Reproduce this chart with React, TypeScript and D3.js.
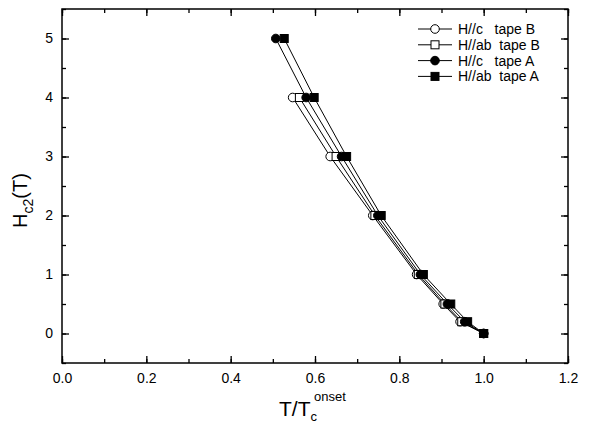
import { useEffect, useRef } from "react";
import * as d3 from "d3";

// field values (T) for each tape
const fieldB = [4, 3, 2, 1, 0.5, 0.2, 0];
const fieldA = [5, 4, 3, 2, 1, 0.5, 0.2, 0];

// reduced temperature T/Tc onset
const tParC_B = [0.547, 0.636, 0.737, 0.841, 0.904, 0.944, 1.0];
const tParAb_B = [0.563, 0.65, 0.742, 0.845, 0.908, 0.948, 1.0];
const tParC_A = [0.507, 0.579, 0.663, 0.749, 0.85, 0.914, 0.955, 1.0];
const tParAb_A = [0.527, 0.598, 0.675, 0.757, 0.857, 0.922, 0.962, 1.0];

const seriesNames = ["H//c   tape B", "H//ab  tape B", "H//c   tape A", "H//ab  tape A"];

const xTicks = [0, 0.2, 0.4, 0.6, 0.8, 1.0, 1.2];
const yTicks = [0, 1, 2, 3, 4, 5];

const W = 590;
const H = 428;
const left = 62;
const right = 568;
const top = 9;
const bottom = 363;

export default function App() {
  const ref = useRef<SVGSVGElement>(null);

  useEffect(() => {
    const svg = d3.select(ref.current);
    svg.selectAll("*").remove();

    const x = d3.scaleLinear().domain([0, 1.2]).range([left, right]);
    const y = d3.scaleLinear().domain([-0.5, 5.5]).range([bottom, top]);

    const font = "'Liberation Sans', Arial, sans-serif";
    const xMinor = d3.range(0, 1.2001, 0.1);
    const yMinor = d3.range(-0.5, 5.5001, 0.5);

    const styleAxis = (g: any) => {
      g.select(".domain").remove();
      g.selectAll("line").attr("stroke", "#000").attr("stroke-width", 1.3);
      g.selectAll("text").attr("font-family", font).attr("font-size", 14).attr("fill", "#000");
    };

    // minor ticks
    svg.append("g").attr("transform", `translate(0,${bottom})`)
      .call(d3.axisBottom(x).tickValues(xMinor).tickSize(-4).tickFormat(() => ""))
      .call(styleAxis);
    svg.append("g").attr("transform", `translate(${left},0)`)
      .call(d3.axisLeft(y).tickValues(yMinor).tickSize(-4).tickFormat(() => ""))
      .call(styleAxis);
    svg.append("g").attr("transform", `translate(0,${top})`)
      .call(d3.axisTop(x).tickValues(xMinor).tickSize(-4).tickFormat(() => ""))
      .call(styleAxis);
    svg.append("g").attr("transform", `translate(${right},0)`)
      .call(d3.axisRight(y).tickValues(yMinor).tickSize(-4).tickFormat(() => ""))
      .call(styleAxis);

    // major ticks with labels
    svg.append("g").attr("transform", `translate(0,${bottom})`)
      .call(d3.axisBottom(x).tickValues(xTicks).tickSize(-7).tickPadding(10).tickFormat(d3.format(".1f")))
      .call(styleAxis);
    svg.append("g").attr("transform", `translate(${left},0)`)
      .call(d3.axisLeft(y).tickValues(yTicks).tickSize(-7).tickPadding(9).tickFormat(d3.format("d")))
      .call(styleAxis);
    svg.append("g").attr("transform", `translate(0,${top})`)
      .call(d3.axisTop(x).tickValues(xTicks).tickSize(-7).tickFormat(() => ""))
      .call(styleAxis);
    svg.append("g").attr("transform", `translate(${right},0)`)
      .call(d3.axisRight(y).tickValues(yTicks).tickSize(-7).tickFormat(() => ""))
      .call(styleAxis);

    // frame
    svg.append("rect")
      .attr("x", left).attr("y", top)
      .attr("width", right - left).attr("height", bottom - top)
      .attr("fill", "none").attr("stroke", "#000").attr("stroke-width", 1.5);

    const series = [
      { t: tParC_B, h: fieldB, shape: "circle", fill: "#fff" },
      { t: tParAb_B, h: fieldB, shape: "square", fill: "#fff" },
      { t: tParC_A, h: fieldA, shape: "circle", fill: "#000" },
      { t: tParAb_A, h: fieldA, shape: "square", fill: "#000" },
    ];

    const line = d3.line<[number, number]>().x((d) => x(d[0])).y((d) => y(d[1]));

    const plot = svg.append("g");
    series.forEach((s) => {
      const pts = s.t.map((v, i) => [v, s.h[i]] as [number, number]);
      plot.append("path").attr("d", line(pts)).attr("fill", "none")
        .attr("stroke", "#000").attr("stroke-width", 1);
    });

    const marker = (g: any, shape: string, fill: string, cx: number, cy: number) => {
      if (shape === "circle") {
        g.append("circle").attr("cx", cx).attr("cy", cy).attr("r", 4.3)
          .attr("fill", fill).attr("stroke", "#000").attr("stroke-width", 1);
      } else {
        g.append("rect").attr("x", cx - 4).attr("y", cy - 4).attr("width", 8).attr("height", 8)
          .attr("fill", fill).attr("stroke", "#000").attr("stroke-width", 1);
      }
    };

    series.forEach((s) => {
      s.t.forEach((v, i) => marker(plot, s.shape, s.fill, x(v), y(s.h[i])));
    });

    // legend
    const legend = svg.append("g");
    series.forEach((s, i) => {
      const ly = 29 + i * 15.8;
      legend.append("line").attr("x1", 418).attr("x2", 452).attr("y1", ly).attr("y2", ly)
        .attr("stroke", "#000").attr("stroke-width", 1);
      marker(legend, s.shape, s.fill, 435, ly);
      legend.append("text").attr("x", 458).attr("y", ly + 5)
        .attr("font-family", font).attr("font-size", 14)
        .style("white-space", "pre").attr("xml:space", "preserve")
        .text(seriesNames[i]);
    });

    // axis titles
    const xt = svg.append("text").attr("x", 279).attr("y", 416)
      .attr("font-family", font).attr("font-size", 21);
    xt.append("tspan").text("T/T");
    xt.append("tspan").attr("font-size", 13).attr("dy", 5).text("c");
    xt.append("tspan").attr("font-size", 13).attr("dx", -3).attr("dy", -20).text("onset");

    const yt = svg.append("text")
      .attr("transform", "translate(27,228) rotate(-90)")
      .attr("font-family", font).attr("font-size", 20);
    yt.append("tspan").text("H");
    yt.append("tspan").attr("font-size", 14).attr("dy", 6).text("c2");
    yt.append("tspan").attr("dy", -6).text("(T)");
  }, []);

  return (
    <svg ref={ref} width={W} height={H} style={{ position: "absolute", left: 0, top: 0, background: "#fff" }} />
  );
}
